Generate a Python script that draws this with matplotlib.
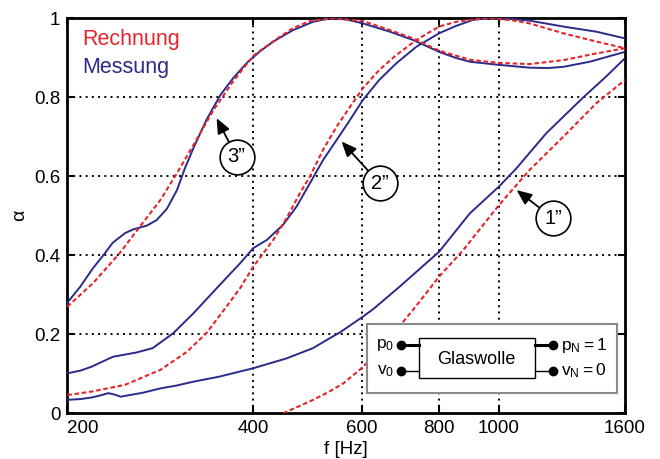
import matplotlib
matplotlib.use('Agg')
import matplotlib.pyplot as plt
from matplotlib.ticker import NullLocator
from matplotlib.patches import Rectangle

plt.rcParams['font.family'] = ['Liberation Sans', 'DejaVu Sans']
plt.rcParams['mathtext.default'] = 'regular'

# ---------------- data ----------------
xticks = [200, 400, 600, 800, 1000, 1600]
xticklabels = ['200', '400', '600', '800', '1000', '1600']
yticks = [0, 0.2, 0.4, 0.6, 0.8, 1]
yticklabels = ['0', '0.2', '0.4', '0.6', '0.8', '1']

# Messung (measurement)
f_mess1 = [200, 210, 219, 226, 233, 239, 244, 252, 265, 283, 300, 320, 353, 400, 453, 500,
           532, 553, 600, 626, 691, 800, 897, 1000, 1067, 1193, 1370, 1490, 1600]
a_mess1 = [0.034, 0.036, 0.040, 0.045, 0.051, 0.047, 0.042, 0.046, 0.052, 0.063, 0.070, 0.080,
           0.093, 0.114, 0.139, 0.165, 0.190, 0.205, 0.243, 0.264, 0.321, 0.409, 0.506, 0.574,
           0.620, 0.709, 0.800, 0.852, 0.899]

f_mess2 = [200, 210, 219, 237, 259, 275, 297, 320, 345, 381, 400, 421, 447, 470, 494, 519,
           546, 574, 602, 640, 682, 735, 800, 850, 908, 966, 1050, 1121, 1271, 1438, 1600]
a_mess2 = [0.101, 0.108, 0.118, 0.143, 0.154, 0.165, 0.203, 0.253, 0.308, 0.380, 0.418, 0.439,
           0.477, 0.523, 0.582, 0.641, 0.692, 0.743, 0.793, 0.844, 0.886, 0.928, 0.962, 0.980,
           0.996, 1.000, 0.998, 0.994, 0.979, 0.966, 0.949]

f_mess3 = [200, 210, 220, 229, 237, 248, 256, 269, 279, 290, 301, 310, 320, 336, 354, 371,
           390, 410, 431, 464, 500, 532, 566, 602, 666, 726, 800, 850, 897, 1000, 1121, 1200,
           1271, 1403, 1600]
a_mess3 = [0.280, 0.321, 0.367, 0.401, 0.432, 0.456, 0.466, 0.475, 0.489, 0.518, 0.565, 0.620,
           0.671, 0.743, 0.806, 0.848, 0.886, 0.916, 0.941, 0.970, 0.991, 1.000, 0.997, 0.987,
           0.966, 0.945, 0.915, 0.900, 0.890, 0.882, 0.875, 0.874, 0.877, 0.890, 0.915]

# Rechnung (calculation)
f_rech1 = [447, 470, 500, 530, 560, 595, 650, 700, 726, 800, 875, 1000, 1121, 1271, 1438, 1600]
a_rech1 = [0.000, 0.015, 0.034, 0.054, 0.076, 0.110, 0.168, 0.232, 0.262, 0.346, 0.413, 0.527,
           0.616, 0.700, 0.785, 0.844]

f_rech2 = [200, 219, 248, 283, 312, 336, 362, 381, 400, 431, 453, 476, 494, 519, 546, 574,
           602, 640, 682, 735, 800, 852, 920, 966, 1050, 1121, 1271, 1438, 1600]
a_rech2 = [0.046, 0.055, 0.072, 0.110, 0.155, 0.203, 0.270, 0.317, 0.371, 0.439, 0.494, 0.557,
           0.599, 0.667, 0.726, 0.776, 0.823, 0.869, 0.907, 0.945, 0.979, 0.991, 0.998, 1.000,
           0.995, 0.987, 0.962, 0.941, 0.924]

f_rech3 = [200, 220, 243, 262, 283, 301, 320, 345, 371, 400, 436, 464, 494, 540, 602, 666,
           726, 800, 897, 1000, 1121, 1271, 1438, 1600]
a_rech3 = [0.270, 0.329, 0.405, 0.472, 0.540, 0.608, 0.679, 0.768, 0.840, 0.905, 0.947, 0.975,
           0.993, 1.000, 0.993, 0.970, 0.949, 0.918, 0.895, 0.887, 0.884, 0.894, 0.911, 0.924]

legend_labels = ['Rechnung', 'Messung']
curve_labels = ['1”', '2”', '3”']

# ---------------- style ----------------
RED = '#e6242b'
BLUE = '#2a2b8a'

fig = plt.figure(figsize=(6.6, 4.59), dpi=100)
ax = fig.add_axes([0.1020, 0.0996, 0.8450, 0.8606])
ax.set_xscale('log')
ax.set_xlim(200, 1600)
ax.set_ylim(0, 1)

dot = (0, (1, 2.2))
for x in xticks[1:-1]:
    ax.axvline(x, color='k', ls=dot, lw=1.4, zorder=1)
for y in yticks[1:-1]:
    ax.axhline(y, color='k', ls=dot, lw=1.4, zorder=1)

for f, a in [(f_mess1, a_mess1), (f_mess2, a_mess2), (f_mess3, a_mess3)]:
    ax.plot(f, a, color=BLUE, lw=1.4, zorder=3)
for f, a in [(f_rech1, a_rech1), (f_rech2, a_rech2), (f_rech3, a_rech3)]:
    ax.plot(f, a, color=RED, lw=1.5, ls=(0, (2.2, 1.3)), zorder=4)

ax.set_xticks(xticks)
ax.set_xticklabels(xticklabels)
ax.xaxis.set_minor_locator(NullLocator())
ax.set_yticks(yticks)
ax.set_yticklabels(yticklabels)
ax.tick_params(direction='in', length=5, width=1.5, top=True, right=True,
               labelsize=13.5, pad=5)
ax.get_xticklabels()[0].set_horizontalalignment('left')
for s in ax.spines.values():
    s.set_linewidth(2)

ax.set_xlabel('f [Hz]', fontsize=13.5, labelpad=3)
ax.set_ylabel('α', fontsize=14, labelpad=4)

ax.text(0.026, 0.932, legend_labels[0], transform=ax.transAxes, color=RED,
        fontsize=15.5, va='baseline')
ax.text(0.026, 0.861, legend_labels[1], transform=ax.transAxes, color=BLUE,
        fontsize=15.5, va='baseline')

centers = [(1223, 0.494), (641, 0.582), (376, 0.649)]
tips = [(1068, 0.565), (556, 0.688), (349, 0.747)]
for lab, c, t in zip(curve_labels, centers, tips):
    ax.annotate('', xy=t, xytext=c,
                arrowprops=dict(arrowstyle='-|>,head_length=0.7,head_width=0.3',
                                color='k', lw=1.3, shrinkA=0, shrinkB=0,
                                mutation_scale=13),
                zorder=5)
    ax.plot([c[0]], [c[1]], marker='o', ms=25, mfc='white', mec='k', mew=1.2,
            zorder=6, ls='none')
    ax.text(c[0], c[1], lab, ha='center', va='center', fontsize=14.5, zorder=7)

# ---------------- inset schematic ----------------
ins = fig.add_axes([0.5565, 0.1438, 0.3783, 0.1503])
ins.set_xlim(0, 249.7)
ins.set_ylim(69, 0)
ins.set_xticks([])
ins.set_yticks([])
for s in ins.spines.values():
    s.set_color('#8a8a8a')
    s.set_linewidth(1.5)
ins.add_patch(Rectangle((52, 14.3), 115.7, 40, fill=False, ec='k', lw=1))
ins.plot([33.4, 52], [21, 21], 'k', lw=2.2)
ins.plot([167.7, 186], [21, 21], 'k', lw=2.2)
ins.plot([33.4, 52], [47, 47], 'k', lw=1)
ins.plot([167.7, 186], [47, 47], 'k', lw=1)
ins.plot([33.4, 33.4, 186, 186], [21, 47, 21, 47], 'o', color='k', ms=6, ls='none')
ins.text(109.4, 35, 'Glaswolle', ha='center', va='center', fontsize=13)
ins.text(27, 21, r'$p_0$', ha='right', va='center', fontsize=12.5)
ins.text(27, 47, r'$v_0$', ha='right', va='center', fontsize=12.5)
ins.text(194, 21, r'$p_N = 1$', ha='left', va='center', fontsize=12.5)
ins.text(194, 47, r'$v_N = 0$', ha='left', va='center', fontsize=12.5)

fig.savefig('out.png', dpi=100)
